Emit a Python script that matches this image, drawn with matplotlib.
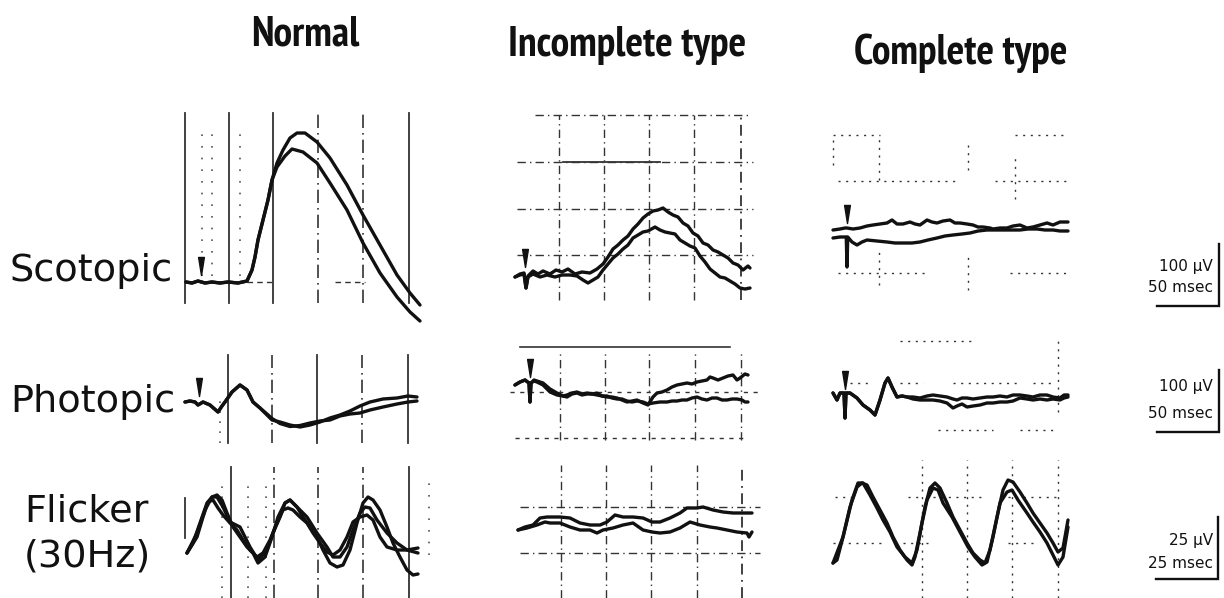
import matplotlib
matplotlib.use('Agg')
import matplotlib.pyplot as plt
from matplotlib.path import Path
from matplotlib import font_manager as fm

W, H = 1224, 598
fig = plt.figure(figsize=(W / 100, H / 100), dpi=100)
fig.patch.set_facecolor('white')

# ---------------- text ----------------
column_titles = ['Normal', 'Incomplete type', 'Complete type']
row_titles = ['Scotopic', 'Photopic', 'Flicker', '(30Hz)']
scale_amp = [100, 100, 25]      # µV
scale_time = [50, 50, 25]       # msec
scale_amp_labels = ['100 µV', '100 µV', '25 µV']
scale_time_labels = ['50 msec', '50 msec', '25 msec']

# ---------------- data (time in ms from flash, amplitude in µV) ----------------
# Normal, scotopic
scot_norm_t0 = [-12, -7.2, -2.4, 3.2, 8.8, 15.2, 21.6, 29.6, 36.8, 40.8, 43.2, 45.6, 49.6, 53.6, 56.8]
scot_norm_v0 = [0, -1.6, 1.6, -1.6, 0, -1.6, 0, -1.6, 1.6, 19.2, 40, 67.2, 99.2, 131.2, 163.2]
scot_norm_t1 = [60.8, 65.6, 71.2, 76.8, 83.2, 92.8, 103.2, 116.8, 129.6, 143.2, 156.8, 167.2, 175.2]
scot_norm_v1 = [190.4, 211.2, 230.4, 238.4, 238.4, 224, 198.4, 155.2, 107.2, 59.2, 11.2, -17.6, -36.8]
scot_norm_t2 = [60.8, 67.2, 72.8, 81.6, 92.8, 103.2, 116.8, 129.6, 143.2, 156.8, 167.2, 175.2]
scot_norm_v2 = [184, 201.6, 212.8, 208, 190.4, 158.4, 115.2, 62.4, 14.4, -24, -48, -62.4]

# Incomplete type, scotopic
scot_inc_t1 = [-8, -4, -0.8, 0.8, 2.4, 6.4, 10.4, 14.4, 20, 24.8, 29.6, 34.4, 40, 45.6, 52, 57.6,
               62.4, 66.4, 70.4, 74.4, 78.4, 82.4, 86.4, 90.4, 94.4, 98.4, 102.4, 106.4, 110.4,
               114.4, 118.4, 122.4, 126.4, 130.4, 134.4, 138.4, 142.4, 146.4, 150.4, 154.4,
               158.4, 162.4, 166.4, 170.4, 174.4, 178.4, 180]
scot_inc_v1 = [-6.4, -1.6, 0, -24, -4.8, 3.2, -1.6, 3.2, -1.6, 4.8, 1.6, 6.4, -1.6, 1.6, 0, 6.4,
               14.4, 25.6, 38.4, 44.8, 52.8, 59.2, 70.4, 78.4, 88, 94.4, 99.2, 100.8, 104, 97.6,
               92.8, 89.6, 80, 75.2, 64, 59.2, 48, 44.8, 36.8, 33.6, 28.8, 24, 16, 12.8, 4.8, 11.2, 8]
scot_inc_t2 = [-8, -4, -0.8, 0.8, 2.4, 6.4, 12, 17.6, 24, 29.6, 36, 41.6, 46.4, 50.4, 54.4, 58.4,
               62.4, 66.4, 70.4, 74.4, 78.4, 82.4, 86.4, 90.4, 94.4, 98.4, 104, 108, 112, 116,
               120, 124, 128, 132, 136, 140, 144, 148, 152, 156, 160, 164, 168, 172, 176, 180]
scot_inc_v2 = [-6.4, -3.2, -1.6, -24, -6.4, -1.6, -6.4, -3.2, -6.4, -3.2, -3.2, -4.8, -11.2, -16,
               -11.2, -6.4, 4.8, 14.4, 24, 30.4, 38.4, 44.8, 56, 60.8, 65.6, 67.2, 73.6, 68.8,
               65.6, 64, 62.4, 52.8, 48, 43.2, 40, 27.2, 17.6, 6.4, 0, -6.4, -8, -12.8, -17.6,
               -24, -25.6, -24]

# Complete type, scotopic
scot_cmp_t1 = [-11.2, -5.6, -1.6, 0, 4.8, 10.4, 16, 20.8, 26.4, 32, 36, 40, 44.8, 50.4, 54.4, 58.4,
               64, 68, 72, 76.8, 82.4, 86.4, 90.4, 96, 100.8, 104.8, 108.8, 114.4, 116.8, 122.4,
               128, 132.8, 138.4, 144, 148.8, 154.4, 160, 164.8, 170.4, 176.8]
scot_cmp_v1 = [0, 1.6, 3.2, 3.2, 1.6, 3.2, 6.4, 8, 9.6, 11.2, 16, 9.6, 9.6, 12.8, 9.6, 8, 16, 12.8,
               11.2, 14.4, 16, 11.2, 11.2, 9.6, 8, 4.8, 4.8, 3.2, 1.6, 3.2, 3.2, 6.4, 8, 3.2, 4.8,
               8, 11.2, 8, 12.8, 12.8]
scot_cmp_t2 = [-11.2, -5.6, -0.6, 0, 0.6, 4, 8, 12, 16, 24, 32, 38.4, 44.8, 52, 58.4, 64.8, 72,
               78.4, 84.8, 92, 98.4, 104.8, 112, 118.4, 124.8, 132, 138.4, 144.8, 152, 158.4,
               164.8, 170.4, 176.8]
scot_cmp_v2 = [-12.8, -11.2, -11.2, -59.2, -11.2, -19.2, -24, -19.2, -16, -17.6, -19.2, -20.8,
               -20.8, -20.8, -19.2, -16, -12.8, -9.6, -8, -6.4, -4.8, -1.6, 0, 0, 0, 0, 0, 1.6,
               1.6, 0, 0, -1.6, -1.6]

# Normal, photopic
phot_norm_t0 = [-11.2, -7.2, -3.2, -0.8, 3.2, 8.8, 15.2, 18.4, 20.8, 26.4, 32.8, 38.4, 43.2, 48.8,
                54.4, 58.4, 64.8, 72.8, 80.8, 88.8, 96.8, 104.8, 112.8]
phot_norm_v0 = [0, 1.6, 0, -4.8, 0, -4.8, -16, -6.4, 0, 16, 27.2, 19.2, 0, -9.6, -20.8, -28.8,
                -32, -36.8, -40, -36.8, -32, -25.6, -20.8]
phot_norm_v0b = [0, 1.6, 0, -4.8, 0, -4.8, -16, -6.4, 0, 16, 27.2, 19.2, 0, -9.6, -19.2, -26.4,
                 -34.4, -39.2, -37.6, -33.6, -30.4, -28.8, -22.4]
phot_norm_t1 = [120.8, 128.8, 136.8, 147.2, 158.4, 167.2, 174.4]
phot_norm_v1 = [-14.4, -6.4, 0, 4.8, 6.4, 9.6, 8]
phot_norm_v2 = [-19.2, -17.6, -12.8, -8, -3.2, 0, 1.6]

# Incomplete type, photopic
phot_inc_t0 = [-12, -8, -4, -0.8, 0, 0.8, 3.2, 5.6, 10.4, 16, 21.6, 26.4, 29.6, 33.6, 37.6, 41.6,
               45.6, 49.6, 53.6, 57.6, 61.6, 65.6, 69.6, 73.6, 77.6, 81.6, 85.6, 90.4, 94.4]
phot_inc_v0 = [0, 4.8, 8, 3.2, -27.2, 3.2, 6.4, 4.8, 0, -11.2, -16, -17.6, -16, -12.8, -11.2,
               -14.4, -12.8, -14.4, -12.8, -17.6, -19.2, -19.2, -20.8, -24, -27.2, -25.6, -24,
               -28.8, -32]
phot_inc_v0b = [0, 4.8, 8, 3.2, -27.2, 3.2, 8, 6.4, 3.2, -6.4, -12.8, -17.6, -19.2, -14.4, -12.8,
                -16, -14.4, -14.4, -16, -17.6, -17.6, -20.8, -22.4, -22.4, -25.6, -27.2, -25.6,
                -27.2, -30.4]
phot_inc_t1 = [98.4, 101.6, 105.6, 109.6, 113.6, 117.6, 121.6, 125.6, 129.6, 133.6, 137.6, 141.6,
               144, 146.4, 150.4, 154.4, 158.4, 162.4, 165.6, 168, 172, 174.4]
phot_inc_v1 = [-19.2, -12.8, -11.2, -8, -3.2, 0, 1.6, 3.2, 1.6, 4.8, 6.4, 8, 12.8, 11.2, 8, 11.2,
               14.4, 16, 8, 11.2, 17.6, 16]
phot_inc_t2 = [98.4, 104, 109.6, 113.6, 117.6, 121.6, 125.6, 129.6, 133.6, 137.6, 141.6, 145.6,
               149.6, 153.6, 157.6, 161.6, 165.6, 169.6, 172, 174.4]
phot_inc_v2 = [-28.8, -27.2, -27.2, -25.6, -25.6, -24, -24, -20.8, -19.2, -22.4, -24, -20.8,
               -20.8, -24, -24, -22.4, -22.4, -24, -27.2, -27.2]

# Complete type, photopic
phot_cmp_t0 = [-9.6, -6.4, -4, -0.8, 0, 0.8, 4, 9.6, 14.4, 20, 24, 28, 32, 34.4, 37.6, 41.6, 45.6, 49.6]
phot_cmp_v0 = [0, -11.2, 0, 0, -40, 0, 0, -8, -19.2, -27.2, -35.2, -11.2, 16, 24, 9.6, -6.4, -4.8, -6.4]
phot_cmp_t1 = [54.4, 60, 65.6, 70.4, 76, 81.6, 86.4, 89.6, 93.6, 97.6, 102.4, 108, 113.6, 118.4,
               124, 129.6, 134.4, 140, 145.6, 150.4, 156, 161.6, 166.4, 172, 175.2, 178.4]
phot_cmp_v1 = [-6.4, -8, -4.8, -3.2, -4.8, -6.4, -9.6, -11.2, -8, -8, -9.6, -8, -6.4, -6.4, -4.8,
               -6.4, -3.2, -3.2, -4.8, -6.4, -3.2, -3.2, -6.4, -8, -3.2, -3.2]
phot_cmp_v2 = [-9.6, -11.2, -11.2, -11.2, -12.8, -16, -24, -20.8, -17.6, -22.4, -20.8, -19.2, -16,
               -16, -14.4, -14.4, -12.8, -8, -9.6, -11.2, -9.6, -11.2, -9.6, -11.2, -8, -6.4]

# Normal, 30 Hz flicker (three sweeps)
flk_norm_t1 = [0, 2.4, 5.2, 8, 10, 12, 14, 16, 18.4, 21.2, 24, 26.4, 28.4, 31.2, 34, 36.4, 39.2,
               41.2, 44, 46.4, 49.2, 52, 54.4, 57.2, 60, 62.4, 65.2, 68, 70.4, 72.4, 74.4, 77.2,
               80, 82.4, 85.2, 88, 90.4, 92.4]
flk_norm_v1 = [-9.2, -5.2, 2.8, 10.8, 13.2, 14, 12, 6.8, 1.2, -2.8, -6.8, -9.2, -13.2, -10.8, -2.8,
               5.2, 10.8, 12, 9.2, 5.2, 1.2, -2.8, -8, -13.2, -14.8, -14, -8, 2.8, 10.8, 13.2,
               12, 8, 1.2, -5.2, -10.8, -16, -18, -17.6]
flk_norm_t2 = [0, 4, 6.4, 8.4, 10.4, 12.4, 14.4, 17.2, 20, 22.4, 25.2, 28, 30.4, 33.2, 36, 38.4,
               40.4, 42.4, 45.2, 48, 50.4, 53.2, 56, 58.4, 61.2, 64, 66.4, 69.2, 72, 74.4, 77.2,
               80, 84, 88, 92.4]
flk_norm_v2 = [-9.2, -2.8, 5.2, 11.2, 12, 8.8, 6, 2.8, 0, -4, -8, -10.8, -9.2, -4, 2.8, 8, 8.8, 8,
               5.2, 2.8, -1.2, -5.2, -8.8, -10, -8, -2.8, 3.2, 5.2, 6, 4, -2.8, -6.8, -8, -8, -9.2]
flk_norm_t3 = [0, 4, 7.2, 10, 12, 14.4, 17.2, 21.2, 25.2, 28.4, 32, 34.4, 37.2, 39.2, 41.2, 44, 48,
               52, 56, 58.4, 61.2, 64, 66.4, 69.2, 71.2, 73.2, 76, 80, 84, 88, 92.4]
flk_norm_v3 = [-9.2, -1.2, 8, 13.2, 13.2, 9.2, 3.2, 1.2, -6.8, -12, -8, -1.2, 5.2, 10.8, 12, 9.2,
               5.2, -1.2, -6.8, -10.8, -10.8, -6.8, 0, 6.8, 9.2, 8.8, 4, -1.2, -5.2, -8, -7.2]

# Incomplete type, flicker
flk_inc_t1 = [0, 2.8, 6, 8.8, 11.6, 16.8, 20.8, 24.8, 28.8, 32.8, 35.6, 38.8, 42, 46, 50, 53.6,
              56.8, 60.8, 64.8, 67.6, 71.6, 74, 78, 82, 86, 90, 93.6]
flk_inc_v1 = [0, 1.2, 2, 4.8, 5.2, 5.2, 4.8, 2.8, 2, 2, 3.2, 6, 5.2, 5.2, 4.8, 3.2, 3.2, 4.8, 6.8,
              8.8, 8.8, 9.2, 8, 7.2, 6.8, 6.8, 6.8]
flk_inc_t2 = [0, 3.6, 7.6, 10.8, 12.8, 16.8, 20.8, 24.8, 28.8, 31.6, 34, 38, 42, 46, 50, 53.6,
              56.8, 60.8, 64.8, 68.8, 72.8, 76.8, 79.6, 83.6, 87.6, 91.6, 92.4, 93.6]
flk_inc_v2 = [0, 0.8, 2, 3.2, 2.8, 2.8, 1.2, 0, 0, -1.2, 0, 0.8, 2, 2.8, 0, -0.8, -1.2, -0.8, 0.8,
              3.2, 2, 1.2, 0.8, 0, -0.8, -1.2, -2.8, -0.8]

# Complete type, flicker
flk_cmp_t1 = [0, 1.6, 4, 6.8, 9.6, 11.6, 13.6, 16, 18.8, 21.6, 24, 26.8, 29.6, 31.6, 32.8, 34.8,
              36.8, 38.8, 40.8, 42.8, 45.6, 48, 50.8, 53.6, 56, 58.8, 60.8, 62.8, 65.6, 68, 70,
              72, 74.8, 77.6, 80, 82.8, 85.6, 88, 90, 92, 94]
flk_cmp_v1 = [-15.2, -14, -4.8, 7.2, 15.2, 16.8, 16, 11.2, 6, 0.8, -4.8, -10, -14, -16, -12.8,
              -3.2, 7.2, 14.8, 16.8, 14.8, 8.8, 3.2, -2, -7.2, -11.2, -14, -15.2, -10, 3.2, 14,
              18, 17.2, 13.2, 8.8, 4.8, 0.8, -3.2, -7.2, -10.8, -9.2, 2]
flk_cmp_t2 = [0, 4, 7.6, 10, 12, 14.8, 17.6, 20, 22.8, 25.6, 28.8, 31.6, 33.6, 35.6, 37.6, 40, 42,
              44, 47.6, 50.8, 54, 56.8, 59.6, 61.6, 64, 66.8, 69.6, 71.6, 74, 77.6, 80, 82.8,
              85.6, 88, 90, 92, 94]
flk_cmp_v2 = [-15.2, -4.8, 10, 16.8, 16.8, 12, 6.8, 2, -2.8, -8.8, -12.8, -15.2, -10, 0.8, 10,
              14.8, 14, 8.8, 3.2, -2.8, -8.8, -12.8, -16, -14.8, -4.8, 8.8, 13.2, 14, 10, 4.8,
              1.2, -2.8, -7.2, -12, -16, -12.8, -0.8]

# stimulus marker heights (µV above baseline) for flash-evoked responses
arrow_v = {'A': 25.6, 'B': 24, 'C': 25.6, 'D': 24, 'E': 27.2, 'F': 20.8}

# ---------------- layout ----------------
SX_SLOW, SY_SLOW = 1.25, 0.625   # px per ms, px per µV (scotopic / photopic)
SX_FLK, SY_FLK = 2.5, 2.5        # px per ms, px per µV (flicker)
INK = '#111111'
TRACE_LW = 2.4
GRID_LW = 1.0


def find_condensed_bold():
    narrow, cond = None, None
    for f in fm.fontManager.ttflist:
        fn = f.fname.lower().replace('\\', '/').split('/')[-1]
        if 'bold' not in fn or 'italic' in fn or 'oblique' in fn:
            continue
        if 'narrow' in fn and narrow is None:
            narrow = f.fname
        elif 'condensed' in fn and 'semi' not in fn and 'extra' not in fn and cond is None:
            cond = f.fname
    return narrow, cond


narrow_bold, cond_bold = find_condensed_bold()
if narrow_bold:
    title_fp = fm.FontProperties(fname=narrow_bold, size=30)
elif cond_bold:
    title_fp = fm.FontProperties(fname=cond_bold, size=27)
else:
    title_fp = fm.FontProperties(family='Roboto', weight='bold', size=26)


def panel(box, origin, sx, sy):
    l, t, r, b = box
    ox, oy = origin
    ax = fig.add_axes([l / W, 1 - b / H, (r - l) / W, (b - t) / H])
    ax.set_xlim((l - ox) / sx, (r - ox) / sx)
    ax.set_ylim((oy - b) / sy, (oy - t) / sy)
    ax.set_axis_off()
    ax.set_facecolor('none')
    return ax


def vgrid(ax, xs, y0, y1, ls='-.', lw=GRID_LW, color='#333333'):
    for x in xs:
        ax.plot([x, x], [y0, y1], ls=ls, lw=lw, color=color, zorder=1)


def hgrid(ax, y, segs, ls='-.', lw=GRID_LW, color='#333333'):
    for a, b in segs:
        ax.plot([a, b], [y, y], ls=ls, lw=lw, color=color, zorder=1)


def trace(ax, t, v):
    ax.plot(t, v, color=INK, lw=TRACE_LW, solid_joinstyle='round', solid_capstyle='round', zorder=3)


arrow_marker = Path([(-0.32, 1.0), (0.32, 1.0), (0.0, -1.0), (-0.32, 1.0)],
                    [Path.MOVETO, Path.LINETO, Path.LINETO, Path.CLOSEPOLY])


def stim(ax, v):
    ax.plot([0], [v], marker=arrow_marker, markersize=13, color=INK, ls='none', zorder=4)


dashdot = (0, (6, 3, 1, 3))
dotted = (0, (1.5, 4))

# --- A: normal scotopic
axA = panel((175, 105, 430, 330), (201, 282), SX_SLOW, SY_SLOW)
vgrid(axA, [-12.8, 22.4, 57.6, 166.4], -33.6, 270.4, ls='-', lw=1.3)
vgrid(axA, [93.6, 129.6], -33.6, 270.4, ls=(0, (8, 3, 1, 3)), lw=1.2)
vgrid(axA, [0.8, 8.8, 31], 10, 250, ls=(0, (1, 6)), lw=1.2, color='#555555')
hgrid(axA, 0, [(36.8, 59.2), (107, 131)], ls=(0, (4, 3)), lw=1.0)
trace(axA, scot_norm_t0 + scot_norm_t1, scot_norm_v0 + scot_norm_v1)
trace(axA, scot_norm_t0 + scot_norm_t2, scot_norm_v0 + scot_norm_v2)
stim(axA, arrow_v['A'])

# --- B: incomplete scotopic
axB = panel((505, 105, 765, 310), (525, 273), SX_SLOW, SY_SLOW)
vgrid(axB, [27.2, 63.2, 99.2, 135.2], -43.2, 252.8, ls=dashdot)
vgrid(axB, [172.8], -43.2, 252.8, ls=dashdot, lw=1.3)
hgrid(axB, 252.8, [(8, 180)], ls=dashdot)
for yy in [177.6, 102.4, 28.8]:
    hgrid(axB, yy, [(-6.4, 182)], ls=dashdot)
hgrid(axB, 177.6, [(30.4, 108)], ls='-', lw=1.3)
trace(axB, scot_inc_t1, scot_inc_v1)
trace(axB, scot_inc_t2, scot_inc_v2)
stim(axB, arrow_v['B'])

# --- C: complete scotopic
axC = panel((825, 120, 1080, 295), (847, 230), SX_SLOW, SY_SLOW)
hgrid(axC, 152, [(-11, 26), (134, 177)], ls=dotted)
hgrid(axC, 78.4, [(-7, 86), (118, 178)], ls=dotted)
hgrid(axC, -68.8, [(-7, 62), (130, 178)], ls=dotted)
vgrid(axC, [25.6], 80, 152, ls=dotted)
vgrid(axC, [25.6], -88, -30, ls=dotted)
vgrid(axC, [96.8], 96, 136, ls=dotted)
vgrid(axC, [96.8], -96, -40, ls=dotted)
vgrid(axC, [134.4], 50, 120, ls=dotted)
vgrid(axC, [-11.2], 104, 152, ls=dotted)
trace(axC, scot_cmp_t1, scot_cmp_v1)
trace(axC, scot_cmp_t2, scot_cmp_v2)
stim(axC, arrow_v['C'])

# --- D: normal photopic
axD = panel((175, 345, 430, 450), (199, 402), SX_SLOW, SY_SLOW)
vgrid(axD, [23.2, 94.4, 167.2], -65.6, 75.2, ls='-', lw=1.3)
vgrid(axD, [58.4, 130.4], -65.6, 75.2, ls=(0, (8, 3, 1, 3)), lw=1.2)
vgrid(axD, [16.8], -65.6, 3, ls=(0, (1, 5)), lw=1.2, color='#555555')
trace(axD, phot_norm_t0 + phot_norm_t1, phot_norm_v0 + phot_norm_v1)
trace(axD, phot_norm_t0 + phot_norm_t1, phot_norm_v0b + phot_norm_v2)
stim(axD, arrow_v['D'])

# --- E: incomplete photopic
axE = panel((505, 340, 765, 450), (530, 385), SX_SLOW, SY_SLOW)
hgrid(axE, 60.8, [(-8, 160)], ls='-', lw=1.2)
hgrid(axE, -11.2, [(-16, 184)], ls=(0, (3, 4)))
hgrid(axE, -84.8, [(-12, 172)], ls=(0, (3, 4)))
vgrid(axE, [24, 60, 95.2, 132, 168.8], -88, 52.8, ls=dashdot)
trace(axE, phot_inc_t0 + phot_inc_t1, phot_inc_v0 + phot_inc_v1)
trace(axE, phot_inc_t0 + phot_inc_t2, phot_inc_v0b + phot_inc_v2)
stim(axE, arrow_v['E'])

# --- F: complete photopic
axF = panel((825, 335, 1080, 450), (845, 393), SX_SLOW, SY_SLOW)
hgrid(axF, 16, [(4, 20), (44, 62), (86, 138), (150, 168)], ls=dotted)
hgrid(axF, -59.2, [(74, 118), (140, 168)], ls=dotted)
hgrid(axF, 84, [(44, 104)], ls=dotted)
vgrid(axF, [170.4], -30, 85, ls=dotted)
trace(axF, phot_cmp_t0 + phot_cmp_t1, phot_cmp_v0 + phot_cmp_v1)
trace(axF, phot_cmp_t0 + phot_cmp_t1, phot_cmp_v0 + phot_cmp_v2)
stim(axF, arrow_v['F'])

# --- G: normal flicker
axG = panel((175, 460, 440, 598), (187, 530), SX_FLK, SY_FLK)
vgrid(axG, [17.6, 88.8], -27.2, 25.2, ls='-', lw=1.3)
vgrid(axG, [34.8, 52.4, 70.4], -27.2, 25.2, ls=(0, (8, 3, 1, 3)), lw=1.2)
vgrid(axG, [14, 24.4, 31.6], -27.2, 20, ls=(0, (1, 5)), lw=1.2, color='#555555')
vgrid(axG, [-0.8], -3.2, 12.8, ls='-', lw=1.3)
vgrid(axG, [96.8], -10, 20, ls=(0, (1, 6)), lw=1.2, color='#555555')
trace(axG, flk_norm_t1, flk_norm_v1)
trace(axG, flk_norm_t2, flk_norm_v2)
trace(axG, flk_norm_t3, flk_norm_v3)

# --- H: incomplete flicker
axH = panel((505, 460, 765, 598), (518, 530), SX_FLK, SY_FLK)
vgrid(axH, [17.2, 35.2, 53.2, 71.6], -27.2, 26, ls=dashdot)
vgrid(axH, [89.6], -27.2, 26, ls=dashdot, lw=1.3)
hgrid(axH, 9.2, [(0.8, 96.8)], ls=dashdot)
hgrid(axH, -9.2, [(0.8, 96.8)], ls=dashdot)
trace(axH, flk_inc_t1, flk_inc_v1)
trace(axH, flk_inc_t2, flk_inc_v2)

# --- I: complete flicker
axI = panel((825, 455, 1080, 598), (833, 525), SX_FLK, SY_FLK)
hgrid(axI, 11.2, [(0.8, 8), (30, 34), (40, 60), (70, 90)], ls=dotted)
hgrid(axI, -7.2, [(0, 20), (28, 40), (70, 80)], ls=dotted)
vgrid(axI, [35.6, 53.6, 71.6, 90], -29, 26, ls=dotted)
trace(axI, flk_cmp_t1, flk_cmp_v1)
trace(axI, flk_cmp_t2, flk_cmp_v2)

# --- calibration bars
bar_origins = [(1219, 306), (1219, 432), (1218, 579)]
bar_scales = [(SX_SLOW, SY_SLOW), (SX_SLOW, SY_SLOW), (SX_FLK, SY_FLK)]
bar_text_y = [(267, 288), (387, 413), (541, 564)]
for i in range(3):
    ox, oy = bar_origins[i]
    sx, sy = bar_scales[i]
    axS = panel((ox - 70, oy - 72, ox + 4, oy + 4), (ox, oy), sx, sy)
    axS.plot([-scale_time[i], 0, 0], [0, 0, scale_amp[i]], color=INK, lw=1.7,
             solid_joinstyle='miter')
    ya, yt = bar_text_y[i]
    fig.text(1213 / W, 1 - ya / H, scale_amp_labels[i], ha='right', va='center',
             fontsize=11, color=INK, family='DejaVu Sans')
    fig.text(1213 / W, 1 - yt / H, scale_time_labels[i], ha='right', va='center',
             fontsize=11, color=INK, family='DejaVu Sans')

# --- titles
title_pos = [(305, 46), (627, 56), (961, 64)]
for s, (x, y) in zip(column_titles, title_pos):
    fig.text(x / W, 1 - y / H, s, ha='center', va='baseline', fontproperties=title_fp,
             color=INK)

row_pos = [(10, 281), (10, 412), (24, 522), (24, 566)]
for s, (x, y) in zip(row_titles, row_pos):
    fig.text(x / W, 1 - y / H, s, ha='left', va='baseline', fontsize=27.5,
             family='DejaVu Sans', color=INK)

fig.savefig('out.png', dpi=100, facecolor='white')
